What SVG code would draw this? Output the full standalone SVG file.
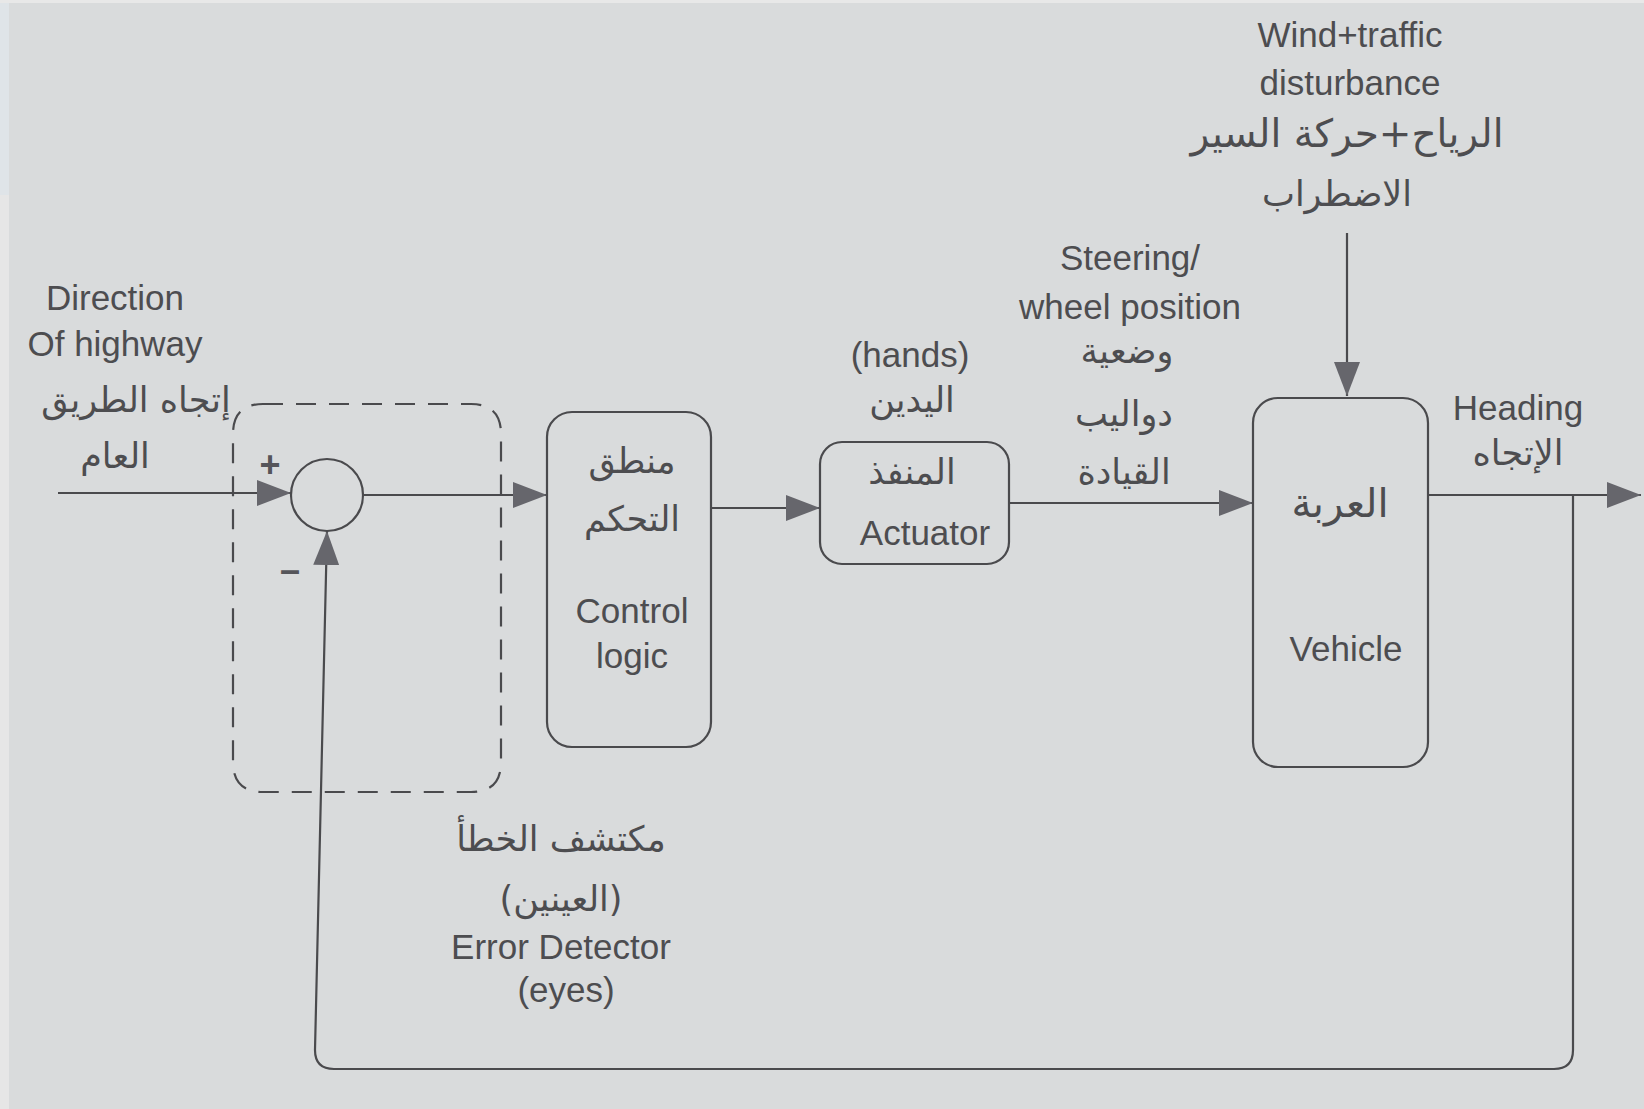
<svg xmlns="http://www.w3.org/2000/svg" width="1644" height="1109" viewBox="0 0 1644 1109">
<defs>
<style>
.bg{fill:#d9dbdc}
.t{font-family:"Liberation Sans","DejaVu Sans",sans-serif;font-size:35px;fill:#4d4d50;text-anchor:middle;dominant-baseline:central}
.ar{font-family:"DejaVu Sans","Noto Sans",sans-serif;font-size:35px;fill:#4d4d50;text-anchor:middle;dominant-baseline:central}
.box{fill:none;stroke:#4a4a4d;stroke-width:2.2}
.ln{fill:none;stroke:#4a4a4d;stroke-width:2.2}
.dash{fill:none;stroke:#4a4a4d;stroke-width:2.2;stroke-dasharray:20 13}
.sign{font-family:"Liberation Sans",sans-serif;font-size:36px;font-weight:bold;fill:#55555a;text-anchor:middle;dominant-baseline:central}
</style>
<marker id="arr" markerUnits="userSpaceOnUse" markerWidth="36" markerHeight="28" refX="34" refY="13" orient="auto">
<path d="M0,0 L34,13 L0,26 z" fill="#66666c"/>
</marker>
</defs>
<rect class="bg" x="0" y="0" width="1644" height="1109"/>
<rect x="0" y="0" width="9" height="195" fill="#dfe4e8"/>
<rect x="0" y="195" width="9" height="914" fill="#e6e6e6"/>
<rect x="0" y="0" width="1644" height="3" fill="#e8e8e8"/>

<g id="connectors">
<path class="ln" d="M58,493 H291" marker-end="url(#arr)"/>
<path class="ln" d="M363,495 H547" marker-end="url(#arr)"/>
<path class="ln" d="M711,508 H820" marker-end="url(#arr)"/>
<path class="ln" d="M1009,503 H1253" marker-end="url(#arr)"/>
<path class="ln" d="M1347,233 V396" marker-end="url(#arr)"/>
<path class="ln" d="M1428,495 H1641" marker-end="url(#arr)"/>
<path class="ln" d="M1573,495 V1050 Q1573,1069 1554,1069 H334 Q315,1069 315,1050 L327,531" marker-end="url(#arr)"/>
</g>

<g id="input-label">
<text class="t" x="115" y="297">Direction</text>
<text class="t" x="115" y="343">Of highway</text>
<text class="ar" x="136" y="400">إتجاه الطريق</text>
<text class="ar" x="115" y="456">العام</text>
</g>

<g id="error-detector">
<path class="dash" d="M263,404 H471 Q501,404 501,434 V762 Q501,792 471,792 H263 Q233,792 233,762 V434 Q233,404 263,404 Z"/>
<circle cx="327" cy="495" r="36" fill="none" stroke="#4a4a4d" stroke-width="2.2"/>
<text class="sign" x="270" y="464">+</text>
<text class="sign" x="290" y="569">–</text>
<text class="ar" x="561" y="839">مكتشف الخطأ</text>
<text class="ar" x="561" y="899">(العينين)</text>
<text class="t" x="561" y="946">Error Detector</text>
<text class="t" x="566" y="989">(eyes)</text>
</g>

<g id="control-logic">
<rect class="box" x="547" y="412" width="164" height="335" rx="25"/>
<text class="ar" x="632" y="461">منطق</text>
<text class="ar" x="632" y="519">التحكم</text>
<text class="t" x="632" y="610">Control</text>
<text class="t" x="632" y="655">logic</text>
</g>

<g id="actuator">
<rect class="box" x="820" y="442" width="189" height="122" rx="22"/>
<text class="ar" x="912" y="472">المنفذ</text>
<text class="t" x="925" y="532">Actuator</text>
<text class="t" x="910" y="354">(hands)</text>
<text class="ar" x="912" y="400">اليدين</text>
</g>

<g id="steering-label">
<text class="t" x="1130" y="257">Steering/</text>
<text class="t" x="1130" y="306">wheel position</text>
<text class="ar" x="1127" y="351">وضعية</text>
<text class="ar" x="1124" y="414">دواليب</text>
<text class="ar" x="1124" y="472">القيادة</text>
</g>

<g id="vehicle">
<rect class="box" x="1253" y="398" width="175" height="369" rx="25"/>
<text class="ar" x="1340" y="503" style="font-size:40px">العربة</text>
<text class="t" x="1346" y="648">Vehicle</text>
</g>

<g id="disturbance">
<text class="t" x="1350" y="34">Wind+traffic</text>
<text class="t" x="1350" y="82">disturbance</text>
<text class="ar" x="1347" y="133" style="font-size:39px">الرياح+حركة السير</text>
<text class="ar" x="1337" y="194">الاضطراب</text>
</g>

<g id="heading">
<text class="t" x="1518" y="407">Heading</text>
<text class="ar" x="1518" y="453">الإتجاه</text>
</g>
</svg>
